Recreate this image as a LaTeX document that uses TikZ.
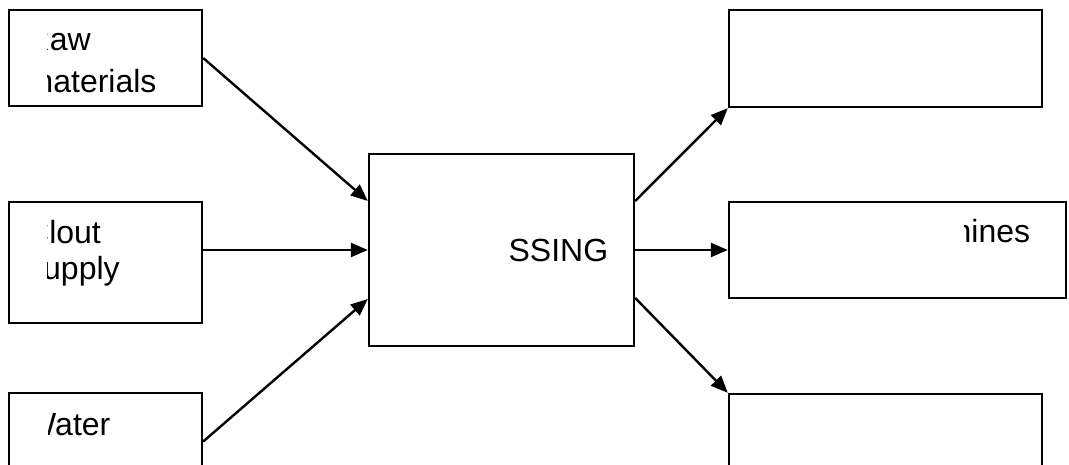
\documentclass[tikz,border=0pt]{standalone}
\usepackage{fontspec}
\setmainfont{Liberation Sans}
\usetikzlibrary{arrows.meta,calc}
\tikzset{
  box/.style={draw=black, line width=2.4pt, rectangle, inner sep=0pt},
  flow/.style={draw=black, line width=2.4pt, -{Triangle[length=17pt,width=14pt]}},
  label/.style={inner sep=0pt, anchor=base west, font=\fontsize{32}{38}\selectfont},
}
\begin{document}
\begin{tikzpicture}[x=1pt,y=-1pt]
\clip (0,0) rectangle (1069,464);
\fill[white] (0,0) rectangle (1069,464);

% input boxes
\node[box, minimum width=193pt, minimum height=96pt]  (raw)   at (105.5,58)  {};
\node[box, minimum width=193pt, minimum height=121pt] (clout) at (105.5,262.5) {};
\node[box, minimum width=193pt, minimum height=97pt]  (water) at (105.5,441.5) {};

% processing box
\node[box, minimum width=265pt, minimum height=192pt] (proc)  at (501.5,250) {};

% output boxes
\node[box, minimum width=313pt, minimum height=97pt]  (outA)  at (885.5,58.5) {};
\node[box, minimum width=337pt, minimum height=96pt]  (outB)  at (897.5,250) {};
\node[box, minimum width=313pt, minimum height=97pt]  (outC)  at (885.5,442.5) {};

% labels, cut by their text frames
\begin{scope}
  \clip (47,10) rectangle (202,106);
  \node[label] (rawA) at (26.5,50) {Raw};
  \node[label] (rawB) at (26.5,92.5) {materials};
\end{scope}
\begin{scope}
  \clip (47,202) rectangle (202,323);
  \node[label] (cloutA) at (26,243) {Clout};
  \node[label] (cloutB) at (27,279) {supply};
\end{scope}
\begin{scope}
  \clip (48,393) rectangle (202,464);
  \node[label] (waterA) at (26,435) {Water};
\end{scope}
\begin{scope}
  \clip (508.5,154) rectangle (634,346);
  \node[label, anchor=base] (procT) at (501.5,261) {PROCESSING};
\end{scope}
\begin{scope}
  \clip (964,202) rectangle (1066,298);
  \node[label] (outBT) at (893,242) {Machines};
\end{scope}

% inputs
\draw[flow] (raw.east) -- ($(proc.west)+(0,-49)$);
\draw[flow] (clout.east |- proc.west) -- (proc.west);
\draw[flow] (water.east) -- ($(proc.west)+(0,49)$);

% outputs
\draw[flow] ($(proc.east)+(0,-49)$) -- (outA.south west);
\draw[flow] (proc.east) -- (outB.west);
\draw[flow] ($(proc.east)+(0,48)$) -- (outC.north west);
\end{tikzpicture}
\end{document}
